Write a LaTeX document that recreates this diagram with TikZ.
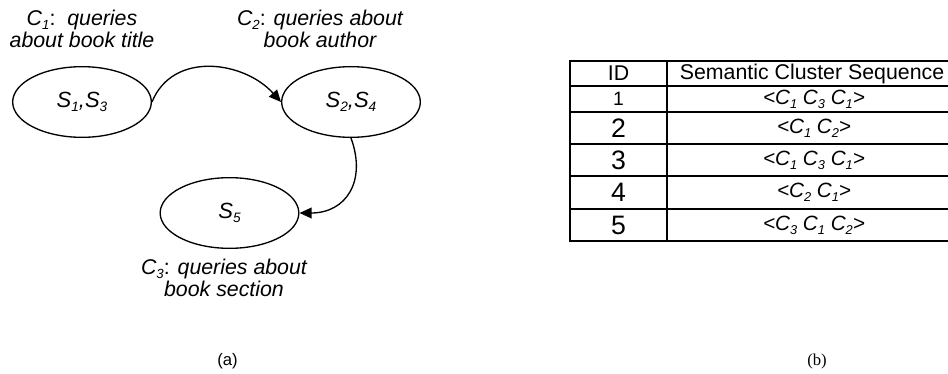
\documentclass[tikz,border=0pt]{standalone}
\usepackage{fontspec}
\setmainfont{Liberation Sans}
\newfontfamily\labelsans{Liberation Sans}
\newfontfamily\captionserif{Liberation Serif}
\usetikzlibrary{shapes.geometric,arrows.meta}
\makeatletter
% subscript scaled to 62% of the current size, lowered a little
\newcommand\sub[1]{\raisebox{-0.35ex}{\fontsize{\strip@pt\dimexpr\f@size pt*62/100\relax}{0}\selectfont#1}}
\makeatother
\newcommand\fs[2]{\fontsize{#1}{#2}\selectfont}
\begin{document}
\begin{tikzpicture}[x=0.75pt,y=-0.75pt,
  state/.style={ellipse,draw,line width=1pt,minimum width=104pt,minimum height=53pt,inner sep=0pt,font=\itshape\fs{16.5}{18}},
  lbl/.style={align=center,inner sep=0pt,font=\itshape\fs{16}{16.5}},
  flow/.style={line width=1pt,-{Triangle[length=9pt,width=8pt]}},
  rule/.style={line width=0.9pt},
  cell/.style={inner sep=0pt,font=\fs{16}{18}},
  bigid/.style={inner sep=0pt,font=\fs{20}{22}},
  seq/.style={inner sep=0pt,font=\itshape\fs{15.5}{18}},
  sublabel/.style={inner sep=0pt,font=\labelsans\fs{12.5}{14}}]
\useasboundingbox (0,0) rectangle (948,374);

% (a) state graph of semantic clusters
\node[state] (s13) at (82,102) {S\sub{1},S\sub{3}};
\node[state] (s24) at (351,102) {S\sub{2},S\sub{4}};
\node[state] (s5) at (229.5,213) {S\sub{5}};

\node[lbl] (c1) at (82,28.5) {C\sub{1}{\upshape:}\ \ queries\\about book title};
\node[lbl] (c2) at (320,28.5) {C\sub{2}{\upshape:} queries about\\book author};
\node[lbl] (c3) at (224,278) {C\sub{3}{\upshape:} queries about\\book section};

\draw[flow] (s13.east) to[out=68,in=132,looseness=1.1] (s24.west);
\draw[flow] (s24.south) to[out=-70,in=0,looseness=1.3] (s5.east);

\node[sublabel] (capa) at (227.5,361.5) {(a)};

% (b) table of cluster sequences
\draw[rule] (570,61) rectangle (960,241);
\draw[rule] (667,61) -- (667,241);
\foreach \yy in {86,112,144,176,209} \draw[rule] (570,\yy) -- (960,\yy);

\node[cell] (hid) at (618.5,73.5) {ID};
\node[cell] (hseq) at (812,73.5) {Semantic Cluster Sequence};

\node[cell,font=\fs{14.5}{16}] (id1) at (618.5,99) {1};
\node[bigid] (id2) at (618.5,128) {2};
\node[bigid] (id3) at (618.5,160) {3};
\node[bigid] (id4) at (618.5,192.5) {4};
\node[bigid] (id5) at (618.5,225) {5};

\node[seq] (q1) at (814,99) {<C\sub{1} C\sub{3} C\sub{1}>};
\node[seq] (q2) at (814,128) {<C\sub{1} C\sub{2}>};
\node[seq] (q3) at (814,160) {<C\sub{1} C\sub{3} C\sub{1}>};
\node[seq] (q4) at (814,192.5) {<C\sub{2} C\sub{1}>};
\node[seq] (q5) at (814,225) {<C\sub{3} C\sub{1} C\sub{2}>};

\node[sublabel,font=\captionserif\fs{12.5}{14}] (capb) at (817,361.5) {(b)};
\end{tikzpicture}
\end{document}
